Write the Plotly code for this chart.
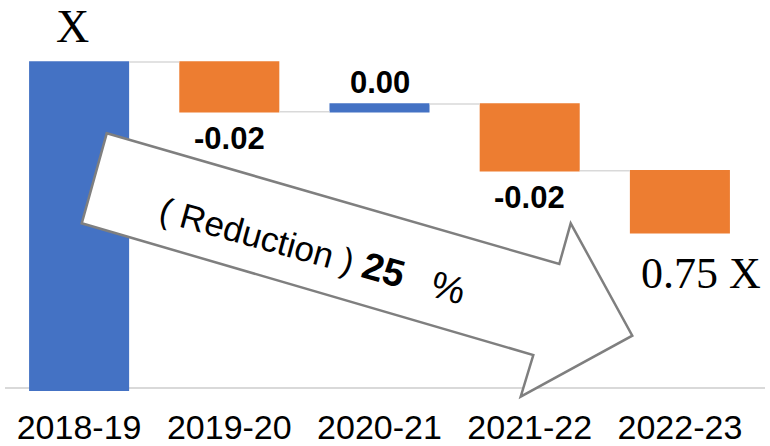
import plotly.graph_objects as go

# ---- data -------------------------------------------------------------
years = ["2018-19", "2019-20", "2020-21", "2021-22", "2022-23"]
measures = ["absolute", "relative", "relative", "relative", "relative"]
values = [0.22, -0.016, 0.0025, -0.0215, -0.020]
start_label = "X"

# ---- styling ----------------------------------------------------------
BLUE = "#4472C4"
ORANGE = "#ED7D31"
LIGHT_GREY = "#D9D9D9"
OUTLINE = "#7F7F7F"
SANS = "Liberation Sans, Arial, sans-serif"
SERIF = "Liberation Serif, Times New Roman, serif"

W, H = 770, 446
M = dict(l=4, r=15, t=0, b=55)
Y_RANGE = [0.114, 0.24]

plot_w = W - M["l"] - M["r"]
plot_h = H - M["t"] - M["b"]


def px_x(x):
    """page pixel -> paper x"""
    return (x - M["l"]) / plot_w


def px_y(y):
    """page pixel -> paper y"""
    return (H - M["b"] - y) / plot_h


# running levels of the waterfall
levels = []
total = 0.0
for m, v in zip(measures, values):
    total = v if m == "absolute" else total + v
    levels.append(total)

ratio = levels[-1] / levels[0]
reduction = round((1 - ratio) * 100)

fig = go.Figure(
    go.Waterfall(
        x=years,
        y=values,
        measure=measures,
        increasing=dict(marker=dict(color=BLUE)),
        decreasing=dict(marker=dict(color=ORANGE)),
        totals=dict(marker=dict(color=BLUE)),
        connector=dict(line=dict(color=LIGHT_GREY, width=1.5), mode="between"),
        textposition="none",
        hoverinfo="skip",
    )
)

annotations = []
# value labels on the yearly changes (last one left unlabeled)
for i in range(1, len(years) - 1):
    v = values[i]
    end = levels[i]
    annotations.append(
        dict(
            x=years[i], y=end, xref="x", yref="y",
            text=f"<b>{v:.2f}</b>",
            showarrow=False,
            xanchor="center", yanchor="middle",
            yshift=21 if v >= 0 else -27,
            font=dict(family=SANS, size=31, color="black"),
        )
    )

# start and end markers
annotations.append(
    dict(x=years[0], y=px_y(27), xref="x", yref="paper", text=start_label,
         showarrow=False, xanchor="center", yanchor="middle", xshift=-7,
         font=dict(family=SERIF, size=46, color="black"))
)
annotations.append(
    dict(x=px_x(701), y=px_y(273), xref="paper", yref="paper",
         text=f"{ratio:.2f} {start_label}", showarrow=False,
         xanchor="center", yanchor="middle",
         font=dict(family=SERIF, size=44, color="black"))
)

# text inside the block arrow
annotations.append(
    dict(
        x=px_x(312), y=px_y(250), xref="paper", yref="paper",
        text=("( Reduction ) "
              f"<b><span style='font-size:38px'>{reduction}</span></b>"
              "\u00a0\u00a0\u00a0<span style='font-size:38px'>%</span>"),
        showarrow=False, textangle=15.5,
        xanchor="center", yanchor="middle",
        font=dict(family=SANS, size=35, color="black"),
    )
)

# block arrow pointing down-right
arrow_px = [
    (106.7, 133.3), (559.3, 264.0), (570.7, 223.3), (632.3, 335.7),
    (520.7, 396.7), (533.3, 355.0), (81.7, 223.3),
]
path = "M " + " L ".join(f"{px_x(x):.4f},{px_y(y):.4f}" for x, y in arrow_px) + " Z"

shapes = [
    # baseline
    dict(type="line", xref="paper", yref="paper",
         x0=px_x(5), x1=px_x(765), y0=px_y(388), y1=px_y(388),
         line=dict(color=LIGHT_GREY, width=2), layer="below"),
    dict(type="path", xref="paper", yref="paper", path=path,
         fillcolor="white", line=dict(color=OUTLINE, width=2.5), layer="above"),
]

fig.update_layout(
    width=W, height=H,
    margin=M,
    paper_bgcolor="white", plot_bgcolor="white",
    showlegend=False,
    waterfallgap=0.334,
    xaxis=dict(
        type="category", range=[-0.5, len(years) - 0.5],
        showgrid=False, showline=False, zeroline=False, ticks="",
        tickfont=dict(family=SANS, size=34, color="black"),
        ticklabelstandoff=13,
    ),
    yaxis=dict(range=Y_RANGE, visible=False, showgrid=False, zeroline=False),
    annotations=annotations,
    shapes=shapes,
)

fig.write_html("out.html")
